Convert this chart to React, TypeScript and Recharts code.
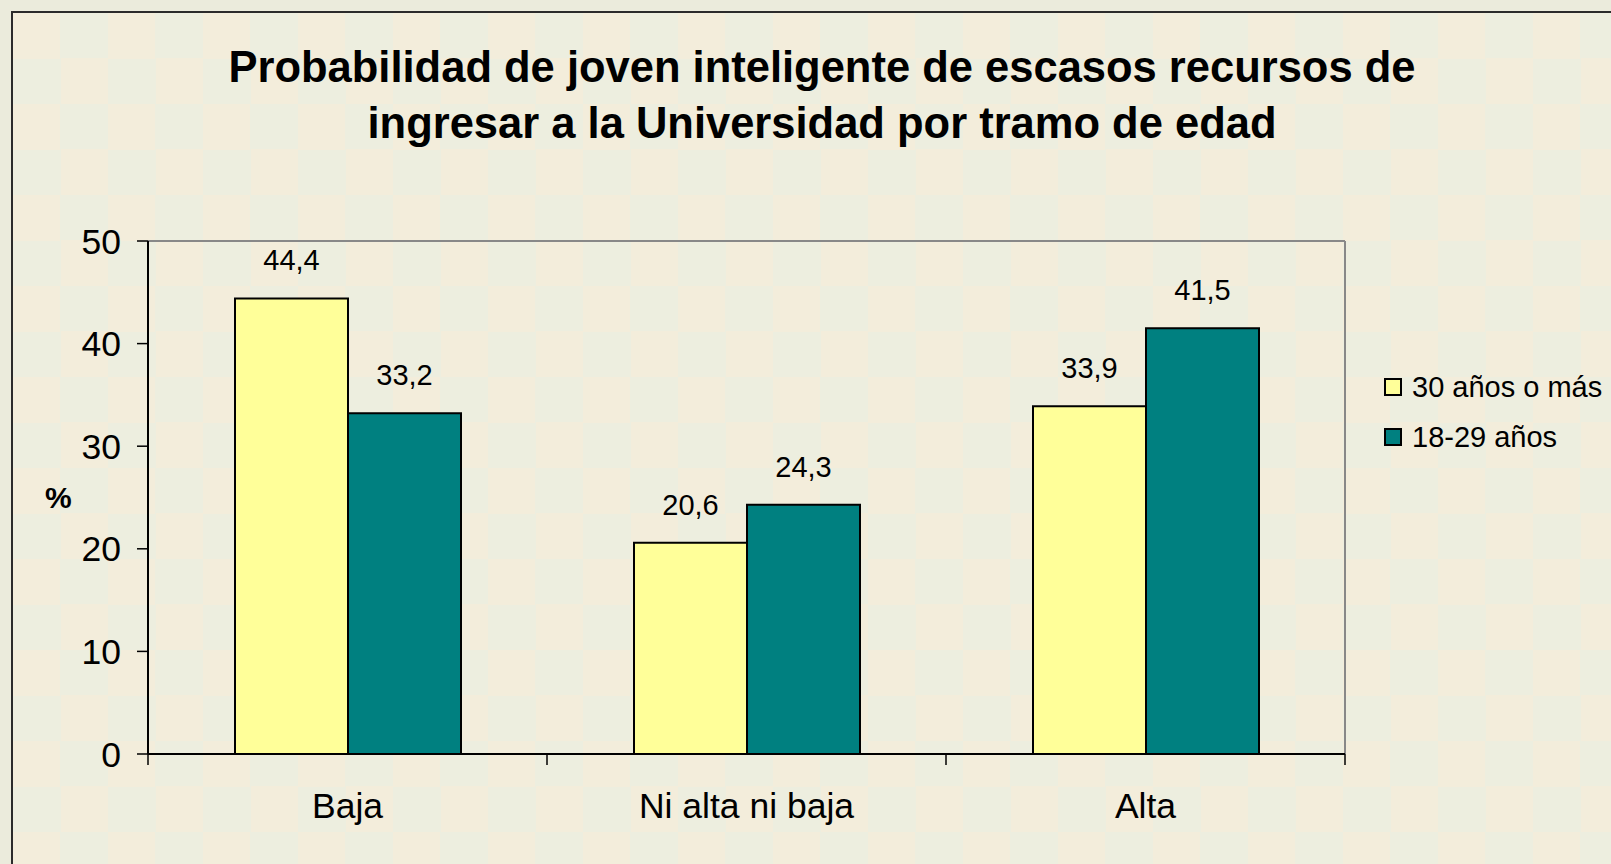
import React from 'react';
import { BarChart, Bar, XAxis, YAxis, LabelList, ReferenceLine } from 'recharts';

const categories = ['Baja', 'Ni alta ni baja', 'Alta'];
const mayores30 = [44.4, 20.6, 33.9];
const jovenes1829 = [33.2, 24.3, 41.5];
const seriesNames = ['30 años o más', '18-29 años'];
const seriesColors = ['#FFFF99', '#008080'];
const yTicks = [0, 10, 20, 30, 40, 50];
const titleLines = [
  'Probabilidad de joven inteligente de escasos recursos de',
  'ingresar a la Universidad por tramo de edad',
];

const data = categories.map((cat, i) => ({ cat, a: mayores30[i], b: jovenes1829[i] }));

const FONT = '"Liberation Sans", Arial, sans-serif';
const comma = (v: any) => String(v).replace('.', ',');

function CategoryTick(props: any) {
  const { x, y, payload, width } = props;
  const half = payload?.offset ?? width / categories.length / 2;
  return (
    <g>
      <line x1={x - half} y1={y} x2={x - half} y2={y + 11} stroke="#000" strokeWidth={1.5} />
      {payload.index === categories.length - 1 && (
        <line x1={x + half} y1={y} x2={x + half} y2={y + 11} stroke="#000" strokeWidth={1.5} />
      )}
      <text x={x} y={y + 52} dy="0.35em" textAnchor="middle" fill="#000" fontSize={35.5} fontFamily={FONT}>
        {payload.value}
      </text>
    </g>
  );
}

function LegendBox() {
  return (
    <div style={{ fontFamily: FONT, fontSize: 29, color: '#000' }}>
      {seriesNames.map((name, i) => (
        <div key={name} style={{ display: 'flex', alignItems: 'center', height: 50 }}>
          <span
            style={{
              width: 14,
              height: 14,
              border: '2px solid #000',
              background: seriesColors[i],
              marginRight: 10,
              display: 'inline-block',
            }}
          />
          <span>{name}</span>
        </div>
      ))}
    </div>
  );
}

export default function App() {
  return (
    <div
      style={{
        position: 'absolute',
        left: 0,
        top: 0,
        width: 1611,
        height: 864,
        overflow: 'hidden',
        background: '#EBEBDC',
      }}
    >
      {/* checkered chart area */}
      <div
        style={{
          position: 'absolute',
          left: 11,
          top: 11,
          width: 1640,
          height: 900,
          border: '2px solid #2b2b2b',
          backgroundImage: 'repeating-conic-gradient(#EDEEDF 0% 25%, #F3EDDB 0% 50%)',
          backgroundSize: '95px 91px',
        }}
      />
      <div
        style={{
          position: 'absolute',
          left: 0,
          width: 1644,
          top: 39,
          textAlign: 'center',
          fontFamily: FONT,
          fontWeight: 'bold',
          fontSize: 43.5,
          lineHeight: '56px',
          color: '#000',
        }}
      >
        {titleLines.map((l) => (
          <div key={l}>{l}</div>
        ))}
      </div>
      <div style={{ position: 'absolute', left: 0, top: 0 }}>
        <BarChart
          width={1611}
          height={864}
          data={data}
          margin={{ top: 241, right: 266, bottom: 50, left: 0 }}
          barGap={0}
          barSize={113}
        >
          <XAxis
            dataKey="cat"
            height={60}
            tickSize={0}
            tickMargin={0}
            tickLine={false}
            interval={0}
            axisLine={{ stroke: '#000', strokeWidth: 2 }}
            tick={<CategoryTick />}
          />
          <YAxis
            width={148}
            domain={[0, 50]}
            ticks={yTicks}
            interval={0}
            tickSize={11}
            tickMargin={16}
            tickLine={{ stroke: '#000', strokeWidth: 1.5 }}
            axisLine={{ stroke: '#000', strokeWidth: 2 }}
            tick={{ fill: '#000', fontSize: 35.5, fontFamily: FONT }}
            label={{
              value: '%',
              position: 'insideLeft',
              offset: 45,
              angle: 0,
              style: { fill: '#000', fontSize: 30, fontWeight: 'bold', fontFamily: FONT },
            }}
          />
          {/* plot frame: top and right edges */}
          <ReferenceLine y={yTicks[yTicks.length - 1]} stroke="#888888" strokeWidth={2} />
          <ReferenceLine
            x={categories[categories.length - 1]}
            position="end"
            stroke="#888888"
            strokeWidth={2}
          />
          <Bar dataKey="a" name={seriesNames[0]} fill={seriesColors[0]} stroke="#000" strokeWidth={2} isAnimationActive={false}>
            <LabelList
              dataKey="a"
              position="top"
              offset={28}
              formatter={comma}
              style={{ fill: '#000', fontSize: 29, fontFamily: FONT }}
            />
          </Bar>
          <Bar dataKey="b" name={seriesNames[1]} fill={seriesColors[1]} stroke="#000" strokeWidth={2} isAnimationActive={false}>
            <LabelList
              dataKey="b"
              position="top"
              offset={28}
              formatter={comma}
              style={{ fill: '#000', fontSize: 29, fontFamily: FONT }}
            />
          </Bar>
        </BarChart>
      </div>
      <div style={{ position: 'absolute', left: 1384, top: 362 }}>
        <LegendBox />
      </div>
    </div>
  );
}
